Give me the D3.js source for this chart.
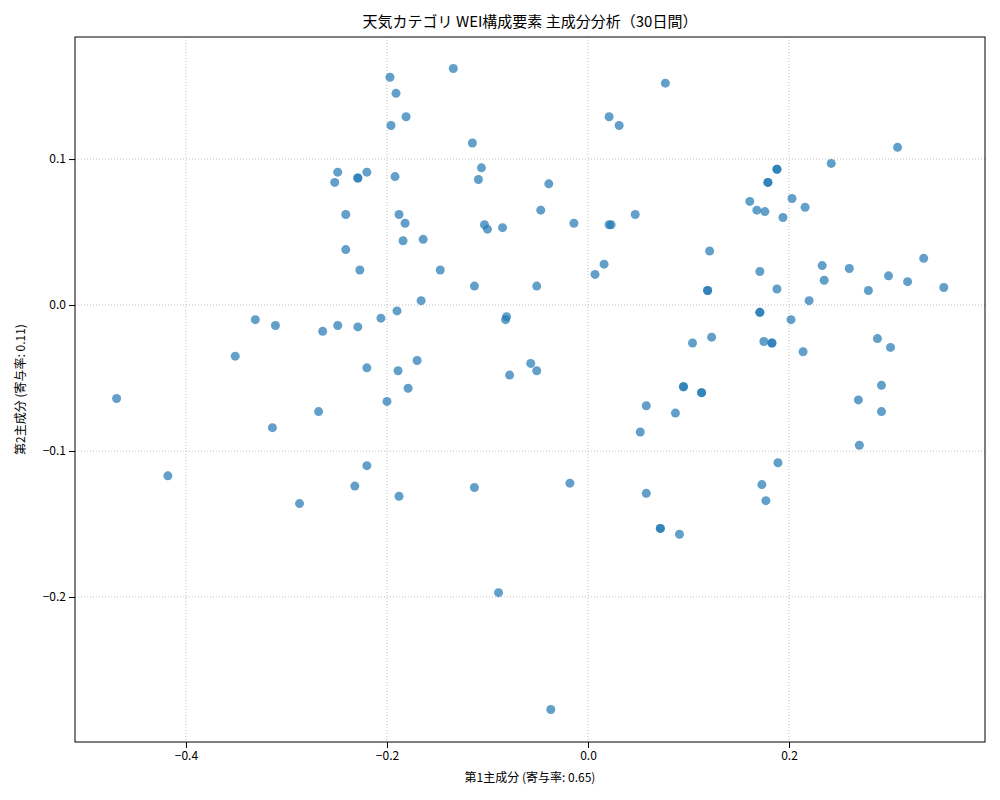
<!DOCTYPE html>
<html><head><meta charset="utf-8">
<script src="https://cdn.jsdelivr.net/npm/d3@7"></script>
<style>body{margin:0;background:#fff}text{font-family:"Noto Sans CJK JP","DejaVu Sans",sans-serif}</style>
</head><body><svg id="c" width="1000" height="800"></svg>
<script>
const pc1=[-0.469,-0.418,-0.351,-0.331,-0.314,-0.311,-0.287,-0.268,-0.264,-0.252,-0.249,-0.249,-0.241,-0.241,-0.229,-0.229,-0.227,-0.232,-0.220,-0.220,-0.220,-0.206,-0.200,-0.197,-0.196,-0.192,-0.191,-0.190,-0.189,-0.188,-0.188,-0.184,-0.182,-0.181,-0.179,-0.170,-0.166,-0.164,-0.147,-0.134,-0.115,-0.113,-0.113,-0.109,-0.106,-0.103,-0.100,-0.085,-0.082,-0.081,-0.078,-0.089,-0.057,-0.051,-0.051,-0.047,-0.039,-0.037,-0.018,-0.014,0.007,0.016,0.021,0.021,0.023,0.031,0.047,0.052,0.058,0.058,0.072,0.072,0.077,0.087,0.091,0.095,0.095,0.104,0.113,0.113,0.119,0.119,0.121,0.123,0.161,0.168,0.171,0.171,0.171,0.173,0.175,0.176,0.177,0.179,0.179,0.183,0.183,0.188,0.188,0.188,0.189,0.194,0.202,0.203,0.216,0.214,0.220,0.233,0.235,0.242,0.260,0.269,0.270,0.279,0.288,0.292,0.292,0.299,0.301,0.308,0.318,0.334,0.354,-0.229];
const pc2=[-0.064,-0.117,-0.035,-0.010,-0.084,-0.014,-0.136,-0.073,-0.018,0.084,0.091,-0.014,0.062,0.038,0.087,-0.015,0.024,-0.124,-0.043,0.091,-0.110,-0.009,-0.066,0.156,0.123,0.088,0.145,-0.004,-0.045,0.062,-0.131,0.044,0.056,0.129,-0.057,-0.038,0.003,0.045,0.024,0.162,0.111,0.013,-0.125,0.086,0.094,0.055,0.052,0.053,-0.010,-0.008,-0.048,-0.197,-0.040,0.013,-0.045,0.065,0.083,-0.277,-0.122,0.056,0.021,0.028,0.129,0.055,0.055,0.123,0.062,-0.087,-0.069,-0.129,-0.153,-0.153,0.152,-0.074,-0.157,-0.056,-0.056,-0.026,-0.060,-0.060,0.010,0.010,0.037,-0.022,0.071,0.065,0.023,-0.005,-0.005,-0.123,-0.025,0.064,-0.134,0.084,0.084,-0.026,-0.026,0.093,0.093,0.011,-0.108,0.060,-0.010,0.073,0.067,-0.032,0.003,0.027,0.017,0.097,0.025,-0.065,-0.096,0.010,-0.023,-0.073,-0.055,0.020,-0.029,0.108,0.016,0.032,0.012,0.087];
const xTicks=[-0.4,-0.2,0.0,0.2], yTicks=[-0.2,-0.1,0.0,0.1];
const title="天気カテゴリ WEI構成要素 主成分分析（30日間）";
const xLabel="第1主成分 (寄与率: 0.65)", yLabel="第2主成分 (寄与率: 0.11)";

const svg=d3.select("#c");
const L=75,R=985,T=37,B=742;
const x=d3.scaleLinear().domain([-0.5104,0.395]).range([L,R]);
const y=d3.scaleLinear().domain([-0.2993,0.1836]).range([B,T]);
const fmt=d=>d3.format(".1f")(d).replace("-","\u2212");
svg.append("g").selectAll("line").data(xTicks).join("line").attr("x1",d=>x(d)).attr("x2",d=>x(d)).attr("y1",T).attr("y2",B).attr("stroke","#b0b0b0").attr("stroke-width",0.8).attr("stroke-dasharray","1,2");
svg.append("g").selectAll("line").data(yTicks).join("line").attr("y1",d=>y(d)).attr("y2",d=>y(d)).attr("x1",L).attr("x2",R).attr("stroke","#b0b0b0").attr("stroke-width",0.8).attr("stroke-dasharray","1,2");
svg.append("g").selectAll("circle").data(pc1.map((v,i)=>[v,pc2[i]])).join("circle")
 .attr("cx",d=>x(d[0])).attr("cy",d=>y(d[1])).attr("r",4.5).attr("fill","#1f77b4").attr("fill-opacity",0.7);
const gx=svg.append("g").attr("transform",`translate(0,${B})`).call(d3.axisBottom(x).tickValues(xTicks).tickFormat(fmt).tickSizeOuter(0));
const gy=svg.append("g").attr("transform",`translate(${L},0)`).call(d3.axisLeft(y).tickValues(yTicks).tickFormat(fmt).tickSizeOuter(0));
[gx,gy].forEach(g=>{g.selectAll("text").attr("font-size",12).attr("fill","#000");g.select(".domain").remove();g.selectAll("line").attr("stroke","#000");});
svg.append("rect").attr("x",L).attr("y",T).attr("width",R-L).attr("height",B-T).attr("fill","none").attr("stroke","#000").attr("stroke-width",1);
svg.append("text").attr("x",(L+R)/2).attr("y",27).attr("text-anchor","middle").attr("font-size",15).text(title);
svg.append("text").attr("x",(L+R)/2).attr("y",782).attr("text-anchor","middle").attr("font-size",12).text(xLabel);
svg.append("text").attr("transform",`translate(25,${(T+B)/2}) rotate(-90)`).attr("text-anchor","middle").attr("font-size",12).text(yLabel);
</script></body></html>
